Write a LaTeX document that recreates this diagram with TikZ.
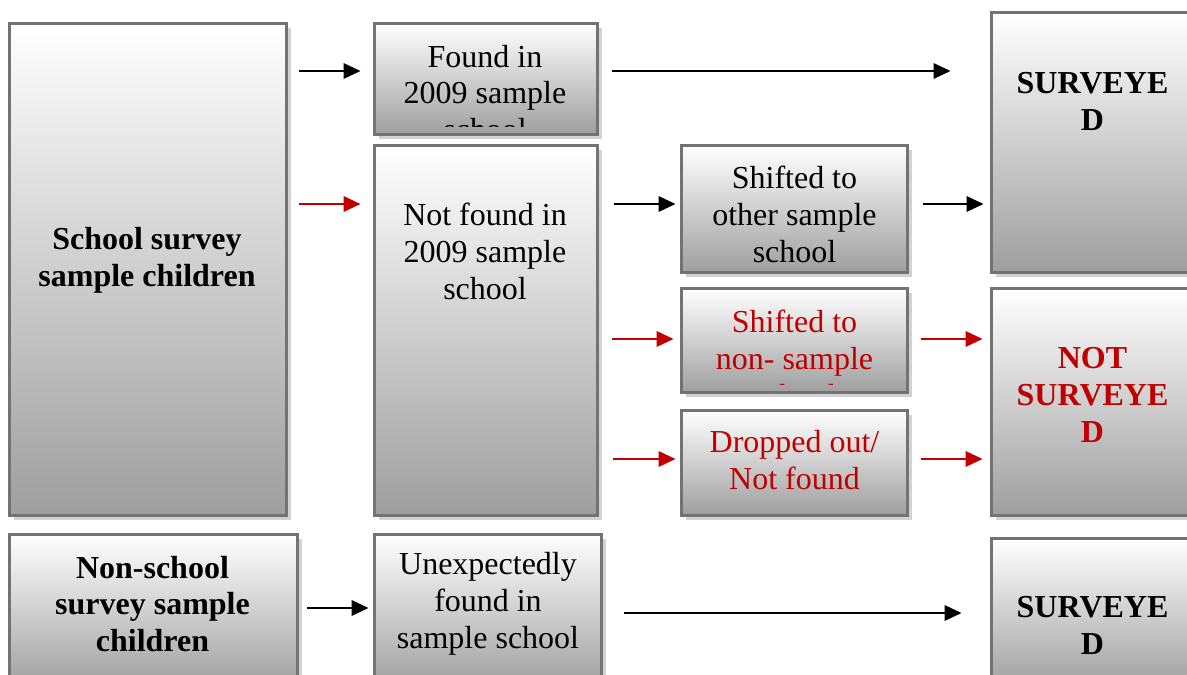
\documentclass[tikz,border=0pt]{standalone}
\usepackage{fontspec}
\setmainfont{Liberation Serif}
\usepackage{tikz}
\definecolor{darkred}{RGB}{192,0,0}
\tikzset{
    box/.style={ % requires library shadows
        draw=black!55,
        line width=0.06cm,
        top color=white,
        bottom color=black!38,
        drop shadow={shadow xshift=0.09cm,shadow yshift=-0.09cm,fill=black!22,opacity=0.8},
        minimum width=#1,
        inner sep=0pt
    },
}
\usetikzlibrary{arrows.meta,shadows}

\begin{document}
\begin{tikzpicture}
%% box text and arrows
\tikzstyle{txt}=[align=center,inner sep=0pt,font=\fontsize{18.2}{21}\selectfont]
\tikzstyle{btxt}=[txt,font=\fontsize{18.2}{21}\selectfont\bfseries]
\tikzstyle{blk}=[->,>={Triangle[length=0.34cm,width=0.31cm]},line width=0.04cm]
\tikzstyle{rd}=[blk,darkred]
\useasboundingbox (0,0) rectangle (23.74,13.48);
\clip (0,0) rectangle (23.74,13.48);
%%%%%%%%%%%%%%%%%%%%%%%%%%%%%%%%%%%%%%%%%%%%%%%%%%%%%%%%%%%%%%%%%%%%%%%%
%column 1
\node[box=5.54cm,minimum height=9.82cm] (school) at (2.95,8.09) {};
\node[box=5.76cm,minimum height=3.12cm] (nonschool) at (3.06,1.24) {};
%column 2
\node[box=4.46cm,minimum height=2.22cm] (found) at (9.71,11.89) {};
\node[box=4.46cm,minimum height=7.38cm] (notfound) at (9.71,6.87) {};
\node[box=4.54cm,minimum height=3.12cm] (unexp) at (9.75,1.24) {};
%column 3
\node[box=4.52cm,minimum height=2.54cm] (shiftother) at (15.88,9.29) {};
\node[box=4.52cm,minimum height=2.08cm] (shiftnon) at (15.88,6.66) {};
\node[box=4.52cm,minimum height=2.08cm] (dropped) at (15.88,4.22) {};
%column 4
\node[box=4.18cm,minimum height=5.20cm] (surv1) at (21.91,10.62) {};
\node[box=4.18cm,minimum height=4.52cm] (notsurv) at (21.91,5.44) {};
\node[box=4.18cm,minimum height=3.04cm] (surv2) at (21.91,1.20) {};

%%%%%%%%%%%%%%%%%%%%%%%%%%%%%%%%%%%%%%%%%%%%%%%%%%%%%%%%%%%%%%%%%%%%%%%%
%TEXT
\node[btxt] (tschool) at (2.94,8.28) {School survey\\sample children};
\node[btxt] (tnonschool) at (3.05,1.40) {Non-school\\survey sample\\children};
\begin{scope}
\clip ([yshift=0.2cm]found.south west) rectangle (found.north east);
\node[txt] (tfound) at (9.70,11.62) {Found in\\2009 sample\\school};
\end{scope}
\node[txt] (tnotfound) at (9.70,8.46) {Not found in\\2009 sample\\school};
\node[txt] (tunexp) at (9.76,1.40) {Unexpectedly\\found in\\sample school};
\node[txt] (tshiftother) at (15.89,9.20) {Shifted to\\other sample\\school};
\begin{scope}
\clip ([yshift=0.2cm]shiftnon.south west) rectangle (shiftnon.north east);
\node[txt,text=darkred] (tshiftnon) at (15.89,6.32) {Shifted to\\non- sample\\school};
\end{scope}
\node[txt,text=darkred] (tdropped) at (15.89,4.27) {Dropped out/\\Not found};
\node[btxt] (tsurv1) at (21.85,11.45) {SURVEYE\\D};
\node[btxt,text=darkred] (tnotsurv) at (21.85,5.58) {NOT\\SURVEYE\\D};
\node[btxt] (tsurv2) at (21.85,0.97) {SURVEYE\\D};

%%%%%%%%%%%%%%%%%%%%%%%%%%%%%%%%%%%%%%%%%%%%%%%%%%%%%%%%%%%%%%
%ARROWS
%school -> found / not found
\draw[blk,shorten <=0.22cm,shorten >=0.24cm] (school.east |- 0,12.06) -- (found.west |- 0,12.06);
\draw[rd,shorten <=0.22cm,shorten >=0.24cm] (school.east |- 0,9.40) -- (notfound.west |- 0,9.40);
%found -> surveyed
\draw[blk,shorten <=0.26cm,shorten >=0.78cm] (found.east |- 0,12.06) -- (surv1.west |- 0,12.06);
%not found -> column 3
\draw[blk,shorten <=0.30cm,shorten >=0.08cm] (notfound.east |- 0,9.40) -- (shiftother.west |- 0,9.40);
\draw[rd,shorten <=0.26cm,shorten >=0.12cm] (notfound.east |- 0,6.70) -- (shiftnon.west |- 0,6.70);
\draw[rd,shorten <=0.28cm,shorten >=0.08cm] (notfound.east |- 0,4.30) -- (dropped.west |- 0,4.30);
%column 3 -> column 4
\draw[blk,shorten <=0.28cm,shorten >=0.12cm] (shiftother.east |- 0,9.40) -- (surv1.west |- 0,9.40);
\draw[rd,shorten <=0.24cm,shorten >=0.14cm] (shiftnon.east |- 0,6.70) -- (notsurv.west |- 0,6.70);
\draw[rd,shorten <=0.24cm,shorten >=0.14cm] (dropped.east |- 0,4.30) -- (notsurv.west |- 0,4.30);
%non-school row
\draw[blk,shorten <=0.16cm,shorten >=0.08cm] (nonschool.east |- 0,1.32) -- (unexp.west |- 0,1.32);
\draw[blk,shorten <=0.42cm,shorten >=0.56cm] (unexp.east |- 0,1.22) -- (surv2.west |- 0,1.22);
\end{tikzpicture}
\end{document}
